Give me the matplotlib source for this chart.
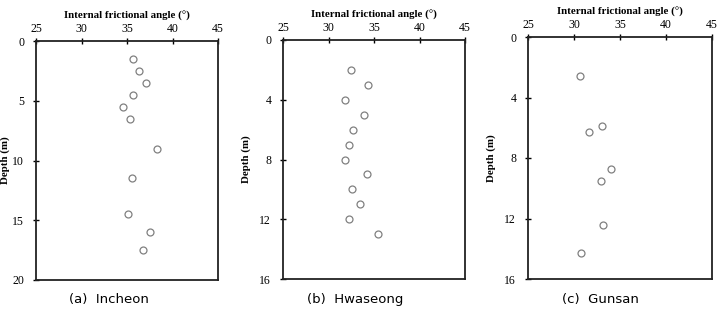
import matplotlib.pyplot as plt

# 내부마찰각 (deg) 과 깊이 (m)
inc_angle = [35.7, 36.3, 37.1, 35.7, 34.6, 35.3, 38.3, 35.5, 35.1, 37.5, 36.8]
inc_depth = [1.5, 2.5, 3.5, 4.5, 5.5, 6.5, 9.0, 11.5, 14.5, 16.0, 17.5]

hws_angle = [32.5, 34.3, 31.8, 33.9, 32.7, 32.2, 31.8, 34.2, 32.6, 33.5, 32.2, 35.4]
hws_depth = [2, 3, 4, 5, 6, 7, 8, 9, 10, 11, 12, 13]

gun_angle = [30.6, 33.0, 31.6, 34.0, 32.9, 33.2, 30.8]
gun_depth = [2.6, 5.9, 6.3, 8.7, 9.5, 12.4, 14.3]

x_ticks = [25, 30, 35, 40, 45]

# 캡션, 데이터, 최대깊이, y눈금, 축 위치(px), 캡션 중심(px), y라벨 간격
panels = [
    ('(a)  Incheon', inc_angle, inc_depth, 20, [0, 5, 10, 15, 20], [36, 218, 41, 280], 109, 2),
    ('(b)  Hwaseong', hws_angle, hws_depth, 16, [0, 4, 8, 12, 16], [283, 465, 40, 279], 355, 6),
    ('(c)  Gunsan', gun_angle, gun_depth, 16, [0, 4, 8, 12, 16], [528, 712, 37, 279], 600, 6),
]

W, H = 717, 310
fig = plt.figure(figsize=(W / 100, H / 100), dpi=100)
serif = ['Liberation Serif', 'DejaVu Serif']

for caption, ang, dep, dmax, yt, (l, r, t, b), cx, lp in panels:
    ax = fig.add_axes([l / W, (H - b) / H, (r - l) / W, (b - t) / H])
    ax.plot(ang, dep, 'o', mfc='white', mec='#808080', ms=5, mew=0.9)
    ax.set_xlim(25, 45)
    ax.set_ylim(dmax, 0)
    ax.set_xticks(x_ticks)
    ax.set_yticks(yt)
    ax.xaxis.tick_top()
    ax.xaxis.set_label_position('top')
    ax.tick_params(direction='inout', length=5, width=1, labelsize=8.5, pad=2)
    ax.tick_params(axis='y', pad=6)
    for lab in ax.get_xticklabels() + ax.get_yticklabels():
        lab.set_family(serif)
    for s in ax.spines.values():
        s.set_linewidth(1.3)
        s.set_color('#222222')
    ax.set_xlabel('Internal frictional angle (°)', family=serif, fontweight='bold',
                  fontsize=7.8, labelpad=3)
    ax.set_ylabel('Depth (m)', family=serif, fontweight='bold', fontsize=7.8, labelpad=lp)
    fig.text(cx / W, (H - 300) / H, caption, ha='center', va='center',
             fontsize=9.5, family=['DejaVu Sans'])

fig.savefig('out.png', dpi=100)
